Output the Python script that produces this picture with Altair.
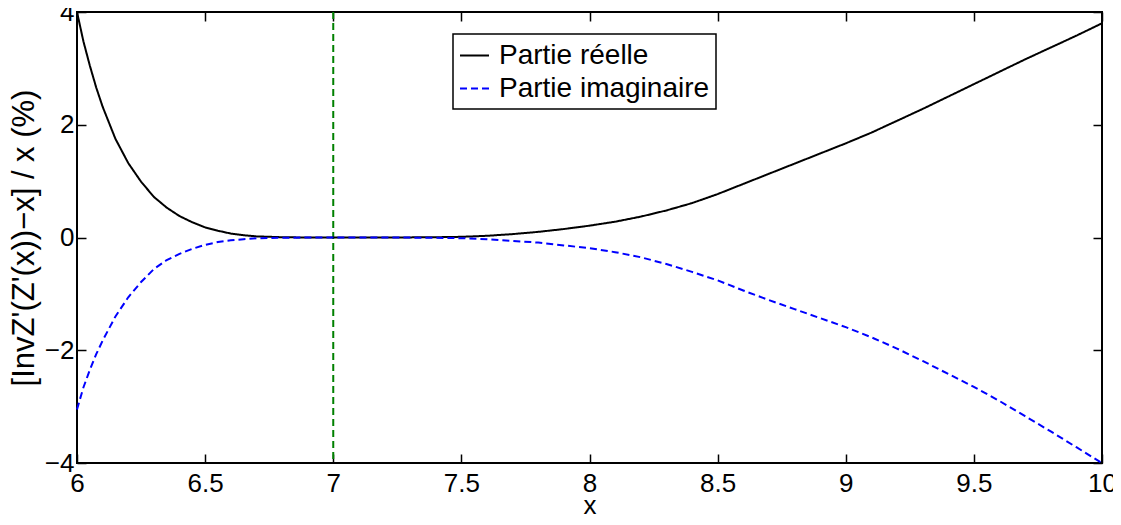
import altair as alt
import pandas as pd

# ---- data ----
x_real = [6.00, 6.025, 6.05, 6.075, 6.10, 6.15, 6.20, 6.25, 6.30, 6.35, 6.40, 6.45, 6.50, 6.55, 6.60,
          6.65, 6.70, 6.80, 6.90, 7.00, 7.10, 7.20, 7.30, 7.40, 7.50, 7.60, 7.70, 7.80, 7.90, 8.00,
          8.10, 8.20, 8.30, 8.40, 8.50, 8.60, 8.70, 8.80, 8.90, 9.00, 9.10, 9.20, 9.30, 9.40, 9.50,
          9.60, 9.70, 9.80, 9.90, 10.00]
y_real = [4.00, 3.48, 3.05, 2.66, 2.32, 1.75, 1.32, 0.99, 0.72, 0.53, 0.38, 0.27, 0.18, 0.12, 0.07,
          0.04, 0.02, 0.005, 0.0, 0.0, 0.0, 0.0, 0.002, 0.005, 0.012, 0.03, 0.06, 0.10, 0.15, 0.21,
          0.28, 0.37, 0.48, 0.61, 0.77, 0.95, 1.13, 1.31, 1.49, 1.67, 1.86, 2.07, 2.28, 2.50, 2.72,
          2.94, 3.16, 3.37, 3.58, 3.80]
x_imag = x_real
y_imag = [-3.05, -2.66, -2.35, -2.07, -1.83, -1.40, -1.06, -0.79, -0.56, -0.40, -0.29, -0.20, -0.13, -0.08, -0.05,
          -0.03, -0.015, -0.005, 0.0, 0.0, 0.0, 0.0, -0.002, -0.005, -0.012, -0.03, -0.06, -0.09, -0.14, -0.19,
          -0.26, -0.35, -0.47, -0.61, -0.76, -0.94, -1.11, -1.27, -1.43, -1.59, -1.77, -1.97, -2.19, -2.42, -2.65,
          -2.90, -3.17, -3.44, -3.72, -4.00]
series_names = ["Partie réelle", "Partie imaginaire"]
series_colors = ["#000000", "#0000ff"]
vline_x = [7]
x_ticks = [6, 6.5, 7, 7.5, 8, 8.5, 9, 9.5, 10]
y_ticks = [-4, -2, 0, 2, 4]

rows = [{"x": a, "y": b, "s": series_names[0]} for a, b in zip(x_real, y_real)]
rows += [{"x": a, "y": b, "s": series_names[1]} for a, b in zip(x_imag, y_imag)]
df = pd.DataFrame(rows)
vdf = pd.DataFrame({"x": vline_x})

FONT = "Liberation Sans"
TICK = 9

xs = alt.Scale(domain=[6, 10], nice=False, zero=False)
ys = alt.Scale(domain=[-4, 4], nice=False, zero=False)

x_axis = alt.Axis(values=x_ticks, format="~g", orient="bottom", offset=-TICK, tickSize=TICK,
                  domain=False, grid=False, labelPadding=7, labelFontSize=26, labelFont=FONT,
                  labelColor="black", tickColor="black", tickWidth=1.5, labelOverlap=False,
                  labelFlush=False, title="x", titleFont=FONT, titleFontSize=26,
                  titleFontWeight="normal", titleColor="black", titlePadding=-4)
y_axis = alt.Axis(values=y_ticks, format="~g", orient="left", offset=-TICK, tickSize=TICK,
                  domain=False, grid=False, labelPadding=3, labelFontSize=26, labelFont=FONT,
                  labelColor="black", tickColor="black", tickWidth=1.5, labelOverlap=False,
                  labelFlush=False, title="[InvZ'(Z'(x))−x] / x (%)", titleFont=FONT,
                  titleFontSize=31, titleFontWeight="normal", titleColor="black", titlePadding=4)

lines = alt.Chart(df).mark_line(strokeWidth=2).encode(
    x=alt.X("x:Q", scale=xs, axis=x_axis),
    y=alt.Y("y:Q", scale=ys, axis=y_axis),
    color=alt.Color("s:N", scale=alt.Scale(domain=series_names, range=series_colors),
                    legend=alt.Legend(title=None)),
    strokeDash=alt.StrokeDash("s:N", scale=alt.Scale(domain=series_names, range=[[1, 0], [7, 4]]),
                              legend=alt.Legend(title=None)),
)

vline = alt.Chart(vdf).mark_rule(color="#008000", strokeWidth=2, strokeDash=[7, 4]).encode(
    x=alt.X("x:Q", scale=xs, axis=None)
)

top_axis = alt.Axis(values=x_ticks, orient="top", offset=-TICK, tickSize=TICK, domain=False,
                    grid=False, labels=False, title=None, tickColor="black", tickWidth=1.5)
right_axis = alt.Axis(values=y_ticks, orient="right", offset=-TICK, tickSize=TICK, domain=False,
                      grid=False, labels=False, title=None, tickColor="black", tickWidth=1.5)
ghost = alt.Chart(df).mark_point(opacity=0).encode(
    x=alt.X("x:Q", scale=xs, axis=top_axis),
    y=alt.Y("y:Q", scale=ys, axis=right_axis),
)

chart = alt.layer(vline, lines, ghost).resolve_axis(x="independent", y="independent").properties(
    width=1025, height=451,
    autosize=alt.AutoSizeParams(type="none"),
    padding={"left": 69, "top": 4, "right": 11, "bottom": 54},
).configure_view(
    stroke="black", strokeWidth=2
).configure_legend(
    orient="none", legendX=376, legendY=22, strokeColor="black", fillColor="white",
    padding=6, labelFont=FONT, labelFontSize=28, labelColor="black", symbolType="stroke",
    symbolSize=841, symbolStrokeWidth=2, labelOffset=9, rowPadding=3, cornerRadius=0,
    strokeWidth=1.5, labelLimit=400
)

chart.save("out.html", embed_options={"renderer": "svg", "actions": False})
